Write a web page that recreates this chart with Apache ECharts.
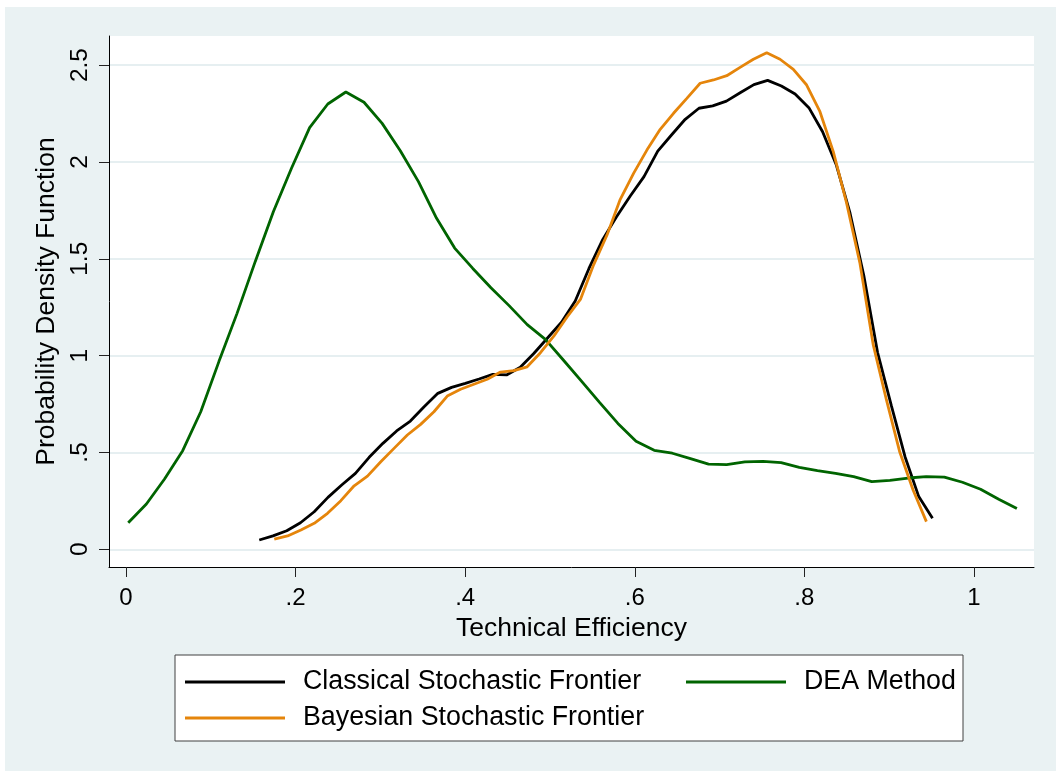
<!DOCTYPE html>
<html>
<head>
<meta charset="utf-8">
<script src="https://cdn.jsdelivr.net/npm/echarts@6/dist/echarts.min.js"></script>
<style>
html,body{margin:0;padding:0;background:#fff;}
#chart{width:1056px;height:771px;}
</style>
</head>
<body>
<div id="chart"></div>
<script>
// ---- data ----
var classicalX = [0.1572,0.1734,0.1896,0.2058,0.2220,0.2382,0.2544,0.2706,0.2868,0.3030,0.3192,0.3354,0.3516,0.3678,0.3840,0.4002,0.4164,0.4326,0.4488,0.4650,0.4812,0.4974,0.5136,0.5298,0.5460,0.5623,0.5785,0.5947,0.6109,0.6271,0.6433,0.6595,0.6757,0.6919,0.7081,0.7243,0.7405,0.7567,0.7729,0.7891,0.8053,0.8215,0.8377,0.8539,0.8701,0.8863,0.9025,0.9187,0.9349,0.9511];
var classicalY = [0.048,0.069,0.096,0.137,0.194,0.268,0.332,0.392,0.475,0.547,0.611,0.662,0.736,0.805,0.836,0.857,0.879,0.903,0.900,0.940,1.012,1.092,1.172,1.282,1.450,1.600,1.717,1.824,1.924,2.056,2.139,2.220,2.277,2.289,2.314,2.357,2.399,2.421,2.392,2.351,2.280,2.156,1.984,1.735,1.413,1.017,0.743,0.478,0.272,0.160];

var deaX = [0.0027,0.0241,0.0455,0.0669,0.0882,0.1096,0.1310,0.1524,0.1738,0.1952,0.2166,0.2380,0.2593,0.2807,0.3021,0.3235,0.3449,0.3663,0.3876,0.4090,0.4304,0.4518,0.4732,0.4946,0.5160,0.5374,0.5587,0.5801,0.6015,0.6229,0.6443,0.6657,0.6870,0.7084,0.7298,0.7512,0.7726,0.7940,0.8154,0.8368,0.8581,0.8795,0.9009,0.9223,0.9437,0.9651,0.9864,1.0078,1.0292,1.0506];
var deaY = [0.137,0.234,0.363,0.509,0.710,0.969,1.218,1.485,1.743,1.967,2.177,2.299,2.361,2.308,2.199,2.058,1.898,1.709,1.555,1.450,1.350,1.258,1.160,1.084,0.976,0.867,0.757,0.650,0.558,0.511,0.496,0.468,0.440,0.437,0.451,0.454,0.447,0.423,0.406,0.392,0.375,0.349,0.356,0.368,0.375,0.373,0.346,0.310,0.258,0.210];

var bayesX = [0.1749,0.1906,0.2063,0.2220,0.2377,0.2534,0.2691,0.2848,0.3005,0.3161,0.3318,0.3475,0.3632,0.3789,0.3946,0.4103,0.4260,0.4417,0.4574,0.4731,0.4888,0.5045,0.5202,0.5359,0.5516,0.5673,0.5829,0.5986,0.6143,0.6300,0.6457,0.6614,0.6771,0.6928,0.7085,0.7242,0.7399,0.7556,0.7713,0.7870,0.8027,0.8184,0.8341,0.8497,0.8654,0.8811,0.8968,0.9125,0.9282,0.9439];
var bayesY = [0.052,0.069,0.100,0.134,0.186,0.251,0.328,0.378,0.452,0.521,0.590,0.645,0.710,0.791,0.826,0.852,0.878,0.915,0.922,0.942,1.015,1.100,1.200,1.290,1.470,1.623,1.807,1.941,2.061,2.168,2.251,2.328,2.406,2.423,2.445,2.488,2.530,2.564,2.530,2.478,2.397,2.259,2.053,1.790,1.480,1.058,0.771,0.502,0.306,0.143];

var xTicks = [0, 0.2, 0.4, 0.6, 0.8, 1];
var yTicks = [0, 0.5, 1, 1.5, 2, 2.5];
var seriesNames = ['Classical Stochastic Frontier', 'DEA Method', 'Bayesian Stochastic Frontier'];
var xTitle = 'Technical Efficiency';
var yTitle = 'Probability Density Function';

// ---- build ----
function pairs(xs, ys){ return xs.map(function(x,i){ return [x, ys[i]]; }); }
function fmt(v){
  var s = String(Math.round(v*10)/10);
  if (s.indexOf('0.') === 0) s = s.slice(1);
  return s;
}
var FONT = '"Liberation Sans", Arial, Helvetica, sans-serif';
var colors = ['#000000', '#006400', '#E5850B'];

var chart = echarts.init(document.getElementById('chart'), null, {renderer:'canvas'});
var legendCommon = {
  orient:'horizontal', icon:'rect', itemWidth:100, itemHeight:3, padding:0,
  selectedMode:false,
  textStyle:{fontFamily:FONT, fontSize:26.8, color:'#000', lineHeight:30, padding:[0,0,0,13]}
};
chart.setOption({
  backgroundColor:'#EAF2F3',
  animation:false,
  graphic:[
    {type:'rect', shape:{x:0,y:0,width:1056,height:7}, style:{fill:'#fff'}, silent:true},
    {type:'rect', shape:{x:0,y:0,width:5,height:771}, style:{fill:'#fff'}, silent:true},
    {type:'rect', shape:{x:175,y:655,width:788,height:86}, style:{fill:'#fff', stroke:'#404040', lineWidth:1}, silent:true, z:-1}
  ],
  grid:{left:109, right:22, top:36, bottom:204, show:true, backgroundColor:'#fff', borderWidth:0},
  xAxis:{
    type:'value', min:-0.02, max:1.0708,
    name:xTitle, nameLocation:'middle', nameGap:40,
    nameTextStyle:{fontFamily:FONT, fontSize:26.5, color:'#000'},
    axisLine:{show:true, onZero:false, lineStyle:{color:'#000', width:1}},
    axisTick:{show:true, length:10, customValues:xTicks, lineStyle:{color:'#222', width:1}},
    axisLabel:{customValues:xTicks, margin:19, fontFamily:FONT, fontSize:24, color:'#000', formatter:fmt},
    splitLine:{show:false}
  },
  yAxis:{
    type:'value', min:-0.0914, max:2.65,
    name:yTitle, nameLocation:'middle', nameGap:45, nameRotate:90,
    nameTextStyle:{fontFamily:FONT, fontSize:26.5, color:'#000'},
    axisLine:{show:true, onZero:false, lineStyle:{color:'#000', width:1}},
    axisTick:{show:true, length:10, customValues:yTicks, lineStyle:{color:'#222', width:1}},
    axisLabel:{customValues:yTicks, rotate:90, margin:16, fontFamily:FONT, fontSize:24.5, color:'#000', formatter:fmt},
    splitLine:{show:true, lineStyle:{color:'#E6EFF1', width:2}}
  },
  legend:[
    Object.assign({data:[seriesNames[0]], left:185, top:667}, legendCommon),
    Object.assign({data:[seriesNames[1]], left:686, top:667}, legendCommon),
    Object.assign({data:[seriesNames[2]], left:185, top:703}, legendCommon)
  ],
  series:[
    {name:seriesNames[0], type:'line', data:pairs(classicalX, classicalY), showSymbol:false, smooth:false,
     itemStyle:{color:colors[0]}, lineStyle:{color:colors[0], width:2.8}, z:2},
    {name:seriesNames[1], type:'line', data:pairs(deaX, deaY), showSymbol:false, smooth:false,
     itemStyle:{color:colors[1]}, lineStyle:{color:colors[1], width:2.8}, z:3},
    {name:seriesNames[2], type:'line', data:pairs(bayesX, bayesY), showSymbol:false, smooth:false,
     itemStyle:{color:colors[2]}, lineStyle:{color:colors[2], width:2.8}, z:4}
  ]
});
</script>
</body>
</html>
